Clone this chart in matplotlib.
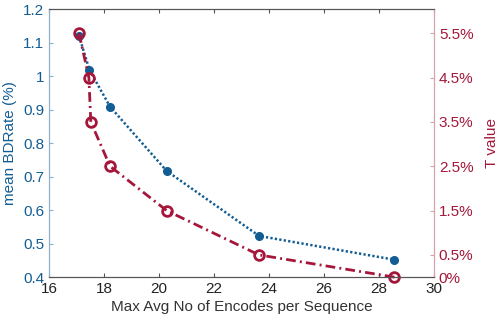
import numpy as np
import matplotlib
matplotlib.use('Agg')
import matplotlib.pyplot as plt
from matplotlib.ticker import FuncFormatter

plt.rcParams['font.family'] = ['Liberation Sans', 'DejaVu Sans']

# data
x_bd = [17.09, 17.47, 18.22, 20.28, 23.64, 28.56]
bdrate = [1.121, 1.019, 0.909, 0.717, 0.523, 0.452]

x_t = [17.09, 17.45, 17.52, 18.22, 20.28, 23.64, 28.56]
t_value = [5.5, 4.5, 3.5, 2.5, 1.5, 0.5, 0.0]

x_ticks = [16, 18, 20, 22, 24, 26, 28, 30]
left_ticks = [0.4, 0.5, 0.6, 0.7, 0.8, 0.9, 1.0, 1.1, 1.2]
right_ticks = [0, 0.5, 1.5, 2.5, 3.5, 4.5, 5.5]

blue = '#125d93'
red = '#a5173a'
blue_spine = '#8fb0c9'
red_spine = '#d9a1ae'
grey = '#555555'

fig = plt.figure(figsize=(4.98, 3.2), dpi=100)
ax = fig.add_axes([0.0984, 0.134, 0.7731, 0.837])
ax2 = ax.twinx()

ax.plot(x_bd, bdrate, linestyle=(0, (0.9, 0.9)), color=blue, linewidth=1.8,
        marker='o', markersize=5.5, markerfacecolor=blue, markeredgecolor=blue)
ax2.plot(x_t, t_value, linestyle=(0, (3.5, 1.5, 0.7, 1.5)), color=red, linewidth=2,
         marker='o', markersize=7, markerfacecolor='none', markeredgecolor=red,
         markeredgewidth=2, clip_on=False)
ax2.set_zorder(ax.get_zorder() + 1)
ax2.patch.set_visible(False)

ax.set_xlim(16, 30)
ax.set_ylim(0.4, 1.2)
ax2.set_ylim(0, 6.04)

ax.set_xticks(x_ticks)
ax.set_yticks(left_ticks)
ax.yaxis.set_major_formatter(FuncFormatter(lambda v, p: '%g' % round(v, 2)))
ax2.set_yticks(right_ticks)
ax2.yaxis.set_major_formatter(FuncFormatter(lambda v, p: '%g%%' % v))

ax.tick_params(axis='x', direction='in', top=True, colors=grey, labelcolor='#222222',
               labelsize=11, length=3, width=0.8)
ax.tick_params(axis='y', direction='in', colors=blue_spine, labelcolor=blue,
               labelsize=11, length=3, width=0.8)
ax2.tick_params(axis='y', direction='in', colors=red_spine, labelcolor=red,
                labelsize=11, length=3, width=0.8)

for a in (ax, ax2):
    a.spines['top'].set_color(grey)
    a.spines['bottom'].set_color(grey)
    a.spines['left'].set_color(blue_spine)
    a.spines['right'].set_color(red_spine)
    for s in a.spines.values():
        s.set_linewidth(0.8)

ax.set_xlabel('Max Avg No of Encodes per Sequence', fontsize=11, color='#333333', labelpad=3)
ax.set_ylabel('mean BDRate (%)', fontsize=11, color=blue, labelpad=4)
ax2.set_ylabel('T value', fontsize=11, color=red, labelpad=8)

fig.savefig('out.png', dpi=100)
